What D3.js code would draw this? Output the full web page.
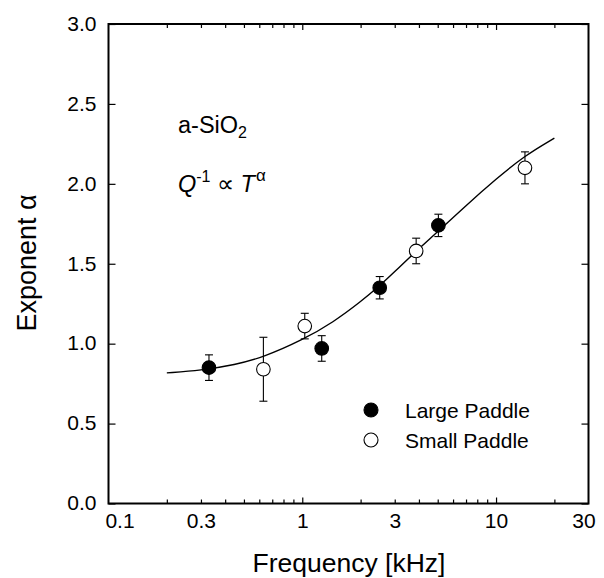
<!DOCTYPE html>
<html>
<head>
<meta charset="utf-8">
<script src="https://cdn.jsdelivr.net/npm/d3@7"></script>
<style>
 body { margin: 0; background: #fff; }
 text { font-family: "Liberation Sans", Arial, sans-serif; fill: #000; }
</style>
</head>
<body>
<div id="chart"></div>
<script>
 // measured points, large paddle (filled)
 var largeFreq = [0.33, 1.26, 2.51, 5.04];
 var largeAlpha = [0.85, 0.97, 1.35, 1.74];
 var largeLo = [0.77, 0.89, 1.28, 1.67];
 var largeHi = [0.93, 1.05, 1.42, 1.81];

 // small paddle (open)
 var smallFreq = [0.63, 1.03, 3.87, 14.1];
 var smallAlpha = [0.84, 1.11, 1.58, 2.10];
 var smallLo = [0.64, 1.03, 1.50, 2.00];
 var smallHi = [1.04, 1.19, 1.66, 2.20];

 // fit curve
 var fitFreq = [0.2, 0.3, 0.45, 0.63, 1.0, 1.45, 2.0, 2.5, 3.0, 3.9, 5.0, 7.0, 10.0, 14.0, 20.0];
 var fitAlpha = [0.817, 0.833, 0.868, 0.915, 1.022, 1.135, 1.262, 1.36, 1.45, 1.583, 1.70, 1.865, 2.03, 2.175, 2.286];

 var xLabels = [0.1, 0.3, 1, 3, 10, 30];
 var xMajor = [1, 10];
 var xMinor = [0.2, 0.3, 0.4, 0.5, 0.6, 0.7, 0.8, 0.9, 2, 3, 4, 5, 6, 7, 8, 9, 20];
 var yTicks = [0, 0.5, 1, 1.5, 2, 2.5, 3];

 var props = {
   width: 604, height: 578,
   left: 108.5, right: 588.5, top: 24, bottom: 503.5
 };

 var svg = d3.select("#chart").append("svg").attr("width", props.width).attr("height", props.height);

 var x = d3.scaleLog().domain([0.1, 30]).range([props.left, props.right]);
 var y = d3.scaleLinear().domain([0, 3]).range([props.bottom, props.top]);

 function clean(g) {
   g.select(".domain").remove();
   g.selectAll("line").attr("stroke", "#000").attr("stroke-width", 1.2);
 }

 // bottom axis
 svg.append("g").attr("transform", "translate(0," + props.bottom + ")")
   .call(d3.axisBottom(x).tickValues(xMinor).tickSize(-4).tickFormat("")).call(clean);
 svg.append("g").attr("transform", "translate(0," + props.bottom + ")")
   .call(d3.axisBottom(x).tickValues(xMajor).tickSize(-6).tickFormat("")).call(clean);
 var xl = svg.append("g").attr("transform", "translate(0," + props.bottom + ")")
   .call(d3.axisBottom(x).tickValues(xLabels).tickSize(0).tickPadding(10).tickFormat(d3.format("~g")))
   .call(clean);
 xl.selectAll("text").style("font-size", "21px").attr("dx", function(d){
   if(d == 0.1) return 11;
   if(d == 30) return -5;
   return 0;
 });

 // top axis
 svg.append("g").attr("transform", "translate(0," + props.top + ")")
   .call(d3.axisTop(x).tickValues(xMinor).tickSize(-4).tickFormat("")).call(clean);
 svg.append("g").attr("transform", "translate(0," + props.top + ")")
   .call(d3.axisTop(x).tickValues(xMajor).tickSize(-6).tickFormat("")).call(clean);

 // left / right axes
 var yl = svg.append("g").attr("transform", "translate(" + props.left + ",0)")
   .call(d3.axisLeft(y).tickValues(yTicks).tickSize(-7).tickPadding(12).tickFormat(d3.format(".1f")))
   .call(clean);
 yl.selectAll("text").style("font-size", "21px").attr("dy", "0.3em");
 svg.append("g").attr("transform", "translate(" + props.right + ",0)")
   .call(d3.axisRight(y).tickValues(yTicks).tickSize(-7).tickFormat("")).call(clean);

 // frame
 svg.append("rect")
   .attr("x", props.left).attr("y", props.top)
   .attr("width", props.right - props.left).attr("height", props.bottom - props.top)
   .attr("fill", "none").attr("stroke", "#000").attr("stroke-width", 2);

 // fit curve
 var fit = fitFreq.map(function(f, i){ return [f, fitAlpha[i]]; });
 var line = d3.line().x(function(d){ return x(d[0]); }).y(function(d){ return y(d[1]); }).curve(d3.curveBasis);
 svg.append("path").datum(fit).attr("d", line)
   .attr("fill", "none").attr("stroke", "#000").attr("stroke-width", 1.4);

 function drawSeries(freq, val, lo, hi, fill) {
   var data = freq.map(function(f, i){ return {f: f, v: val[i], lo: lo[i], hi: hi[i]}; });
   var g = svg.append("g");
   var eb = g.selectAll(".eb").data(data).enter().append("g").attr("stroke", "#000").attr("stroke-width", 1.1);
   eb.append("line")
     .attr("x1", function(d){ return x(d.f); }).attr("x2", function(d){ return x(d.f); })
     .attr("y1", function(d){ return y(d.lo); }).attr("y2", function(d){ return y(d.hi); });
   eb.append("line")
     .attr("x1", function(d){ return x(d.f) - 4; }).attr("x2", function(d){ return x(d.f) + 4; })
     .attr("y1", function(d){ return y(d.lo); }).attr("y2", function(d){ return y(d.lo); });
   eb.append("line")
     .attr("x1", function(d){ return x(d.f) - 4; }).attr("x2", function(d){ return x(d.f) + 4; })
     .attr("y1", function(d){ return y(d.hi); }).attr("y2", function(d){ return y(d.hi); });
   g.selectAll("circle").data(data).enter().append("circle")
     .attr("cx", function(d){ return x(d.f); })
     .attr("cy", function(d){ return y(d.v); })
     .attr("r", 6.8)
     .attr("fill", fill).attr("stroke", "#000").attr("stroke-width", 1.1);
 }
 drawSeries(largeFreq, largeAlpha, largeLo, largeHi, "#000");
 drawSeries(smallFreq, smallAlpha, smallLo, smallHi, "#fff");

 // legend
 var legend = [["Large Paddle", "#000"], ["Small Paddle", "#fff"]];
 var lg = svg.append("g").attr("transform", "translate(371,410)");
 legend.forEach(function(d, i){
   lg.append("circle").attr("cx", 0).attr("cy", i * 30).attr("r", 7)
     .attr("fill", d[1]).attr("stroke", "#000").attr("stroke-width", 1.1);
   lg.append("text").attr("x", 34).attr("y", i * 30 + 7.5).style("font-size", "21px").text(d[0]);
 });

 // annotations
 var a1 = svg.append("text").attr("x", 178).attr("y", 133).style("font-size", "23.5px");
 a1.append("tspan").text("a-SiO");
 a1.append("tspan").attr("dy", 5).style("font-size", "16px").text("2");

 var a2 = svg.append("text").attr("x", 178).attr("y", 192).style("font-size", "23.5px");
 a2.append("tspan").style("font-style", "italic").text("Q");
 a2.append("tspan").attr("dy", -10).style("font-size", "16px").text("-1");
 a2.append("tspan").attr("dy", 10).attr("dx", 6).text("\u221D");
 a2.append("tspan").attr("dx", 7).style("font-style", "italic").text("T");
 a2.append("tspan").attr("dy", -11).attr("dx", 1).style("font-size", "17px").text("\u03B1");

 // axis titles
 svg.append("text").attr("x", 349).attr("y", 572).attr("text-anchor", "middle")
   .style("font-size", "26.5px").text("Frequency [kHz]");
 svg.append("text").attr("transform", "translate(36,263) rotate(-90)").attr("text-anchor", "middle")
   .style("font-size", "27px").text("Exponent \u03B1");
</script>
</body>
</html>
